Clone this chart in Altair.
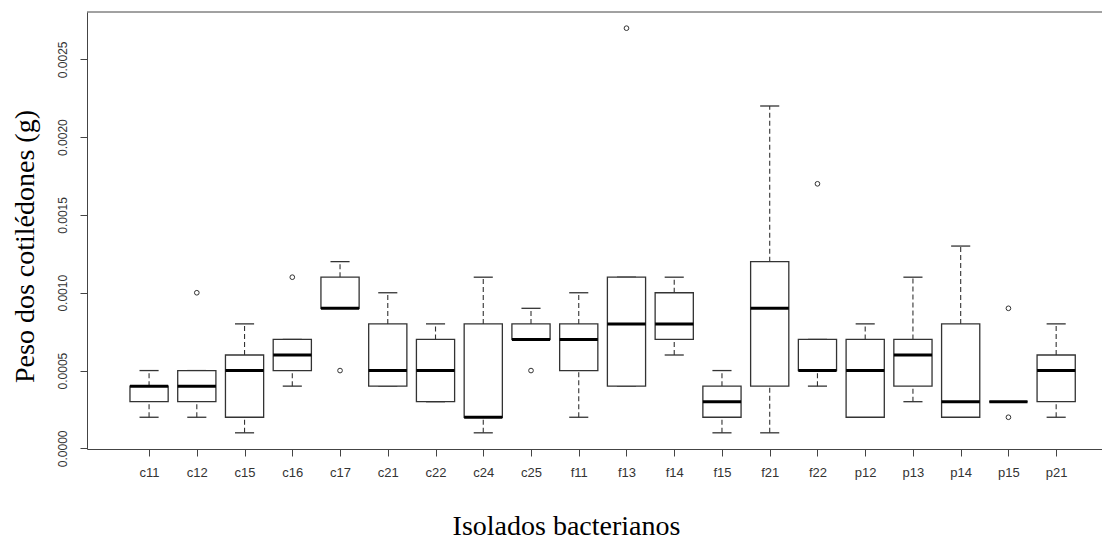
import altair as alt
import pandas as pd

categories = ["c11", "c12", "c15", "c16", "c17", "c21", "c22", "c24", "c25", "f11",
              "f13", "f14", "f15", "f21", "f22", "p12", "p13", "p14", "p15", "p21"]
lower = [0.0002, 0.0002, 0.0001, 0.0004, 0.0009, 0.0004, 0.0003, 0.0001, 0.0007, 0.0002,
         0.0004, 0.0006, 0.0001, 0.0001, 0.0004, 0.0002, 0.0003, 0.0002, 0.0003, 0.0002]
q1 = [0.0003, 0.0003, 0.0002, 0.0005, 0.0009, 0.0004, 0.0003, 0.0002, 0.0007, 0.0005,
      0.0004, 0.0007, 0.0002, 0.0004, 0.0005, 0.0002, 0.0004, 0.0002, 0.0003, 0.0003]
median = [0.0004, 0.0004, 0.0005, 0.0006, 0.0009, 0.0005, 0.0005, 0.0002, 0.0007, 0.0007,
          0.0008, 0.0008, 0.0003, 0.0009, 0.0005, 0.0005, 0.0006, 0.0003, 0.0003, 0.0005]
q3 = [0.0004, 0.0005, 0.0006, 0.0007, 0.0011, 0.0008, 0.0007, 0.0008, 0.0008, 0.0008,
      0.0011, 0.0010, 0.0004, 0.0012, 0.0007, 0.0007, 0.0007, 0.0008, 0.0003, 0.0006]
upper = [0.0005, 0.0005, 0.0008, 0.0007, 0.0012, 0.0010, 0.0008, 0.0011, 0.0009, 0.0010,
         0.0011, 0.0011, 0.0005, 0.0022, 0.0007, 0.0008, 0.0011, 0.0013, 0.0003, 0.0008]
outlier_cats = ["c12", "c16", "c17", "c25", "f13", "f22", "p15", "p15"]
outlier_vals = [0.0010, 0.0011, 0.0005, 0.0005, 0.0027, 0.0017, 0.0009, 0.0002]
y_ticks = [0.0, 0.0005, 0.0010, 0.0015, 0.0020, 0.0025]

W, H = 1015, 437
XDOM = [-0.3, 20.96]
YDOM = [-0.000004, 0.002804]
LINE = "#333333"

df = pd.DataFrame({
    "cat": categories,
    "pos": list(range(1, len(categories) + 1)),
    "lower": lower, "q1": q1, "median": median, "q3": q3, "upper": upper,
})
out = pd.DataFrame({
    "cat": outlier_cats,
    "val": outlier_vals,
    "pos": [categories.index(c) + 1 for c in outlier_cats],
})

xs = alt.Scale(domain=XDOM, nice=False, zero=False)
ys = alt.Scale(domain=YDOM, nice=False, zero=False)

label_array = "[" + ",".join("'%s'" % c for c in categories) + "]"

x_axis = alt.Axis(
    values=list(range(1, len(categories) + 1)),
    labelExpr=label_array + "[datum.value - 1]",
    title="Isolados bacterianos",
    grid=False, tickSize=7, tickColor="#444444", domainColor="#444444",
    labelFont="Liberation Sans", labelFontSize=13, labelColor=LINE, labelPadding=10,
    labelOverlap=False,
    titleFont="Liberation Serif", titleFontSize=28, titleFontWeight="normal",
    titleColor="black", titleX=479, titleY=85, titleBaseline="alphabetic",
    titleAlign="center",
)
y_axis = alt.Axis(
    values=y_ticks, format=".4f",
    title="Peso dos cotilédones (g)",
    grid=False, tickSize=7, tickColor="#444444", domainColor="#444444",
    labelFont="Liberation Sans", labelFontSize=12, labelColor=LINE,
    labelAngle=-90, labelAlign="center", labelBaseline="alphabetic", labelPadding=14,
    titleFont="Liberation Serif", titleFontSize=28, titleFontWeight="normal",
    titleColor="black", titleAngle=270, titleX=-54, titleY=234,
    titleAlign="center", titleBaseline="alphabetic",
)


def X(f):
    return alt.X(f, type="quantitative", scale=xs, axis=x_axis)


def Y(f):
    return alt.Y(f, type="quantitative", scale=ys, axis=y_axis)


base = alt.Chart(df).transform_calculate(
    xl="datum.pos - 0.4", xr="datum.pos + 0.4",
    cl="datum.pos - 0.2", cr="datum.pos + 0.2",
)

wl = base.mark_rule(color=LINE, strokeWidth=1.1, strokeDash=[5, 3]).encode(
    x=X("pos"), y=Y("lower"), y2="q1:Q")
wu = base.mark_rule(color=LINE, strokeWidth=1.1, strokeDash=[5, 3]).encode(
    x=X("pos"), y=Y("q3"), y2="upper:Q")
cap_l = base.mark_rule(color=LINE, strokeWidth=1.3).encode(
    x=X("cl"), x2="cr:Q", y=Y("lower"))
cap_u = base.mark_rule(color=LINE, strokeWidth=1.3).encode(
    x=X("cl"), x2="cr:Q", y=Y("upper"))
box = base.mark_rect(fill="white", stroke=LINE, strokeWidth=1.3).encode(
    x=X("xl"), x2="xr:Q", y=Y("q1"), y2="q3:Q")
med = base.mark_rule(color="black", strokeWidth=3).encode(
    x=X("xl"), x2="xr:Q", y=Y("median"))
pts = alt.Chart(out).mark_point(shape="circle", filled=False, size=22,
                                color=LINE, strokeWidth=1, opacity=1).encode(
    x=X("pos"), y=Y("val"))
top = alt.Chart(pd.DataFrame({"a": [0]})).mark_rule(color="#444444", strokeWidth=1).encode(
    x=alt.value(0), x2=alt.value(W), y=alt.value(0))

chart = alt.layer(wl, wu, cap_l, cap_u, box, med, pts, top).properties(
    width=W, height=H,
    padding={"left": 79, "top": 4, "right": 0, "bottom": 94},
    autosize=alt.AutoSizeParams(type="none"),
    background="white",
).configure_view(stroke=None)

chart.save("out.html", embed_options={"renderer": "svg", "actions": False})
